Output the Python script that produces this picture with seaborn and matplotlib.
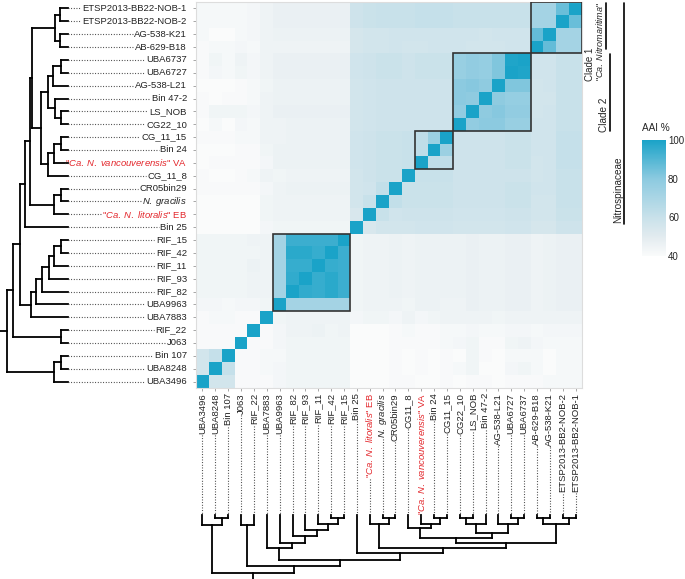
import numpy as np
import pandas as pd
import seaborn as sns
import matplotlib
matplotlib.use("Agg")
import matplotlib.pyplot as plt
from matplotlib.colors import LinearSegmentedColormap
from matplotlib.patches import Rectangle

sns.set_theme(style="white")
plt.rcParams["font.family"] = ["Liberation Sans", "DejaVu Sans"]
plt.rcParams["mathtext.fontset"] = "custom"
plt.rcParams["mathtext.rm"] = "Liberation Sans"
plt.rcParams["mathtext.it"] = "Liberation Sans:italic"

# genomes, top to bottom on the left side
row_labels = [
    "ETSP2013-BB22-NOB-1", "ETSP2013-BB22-NOB-2", "AG-538-K21", "AB-629-B18",
    "UBA6737", "UBA6727", "AG-538-L21", "Bin 47-2", "LS_NOB", "CG22_10",
    "CG_11_15", "Bin 24", '"$\\it{Ca.\\;N.\\;vancouverensis}$" VA', "CG_11_8",
    "CR05bin29", "$\\it{N.\\;gracilis}$", '"$\\it{Ca.\\;N.\\;litoralis}$" EB', "Bin 25",
    "RIF_15", "RIF_42", "RIF_11", "RIF_93", "RIF_82", "UBA9963", "UBA7883",
    "RIF_22", "J063", "Bin 107", "UBA8248", "UBA3496",
]
# genomes, left to right along the bottom
col_labels = [
    "UBA3496", "UBA8248", "Bin 107", "J063", "RIF_22", "UBA7883", "UBA9963",
    "RIF_82", "RIF_93", "RIF_11", "RIF_42", "RIF_15", "Bin 25",
    '"$\\it{Ca.\\;N.\\;litoralis}$" EB', "$\\it{N.\\;gracilis}$", "CR05bin29", "CG11_8",
    '"$\\it{Ca.\\;N.\\;vancouverensis}$" VA', "Bin 24", "CG11_15", "CG22_10", "LS_NOB",
    "Bin 47-2", "AG-538-L21", "UBA6727", "UBA6737", "AB-629-B18", "AG-538-K21",
    "ETSP2013-BB2-NOB-2", "ETSP2013-BB2-NOB-1",
]
red_rows = [12, 16]

# AAI %, rows and columns both in row_labels order
aai = [
    [100, 86, 72, 72, 60, 60, 60, 60, 60, 60, 61, 61, 61, 60, 60, 60, 59, 58, 47, 47, 47, 47, 47, 47, 45, 43, 42, 42, 42, 42],
    [86, 100, 72, 72, 60, 60, 60, 60, 60, 60, 61, 61, 61, 60, 60, 60, 59, 58, 47, 47, 47, 47, 47, 47, 45, 43, 42, 42, 42, 42],
    [72, 72, 100, 87, 57, 57, 57, 56, 57, 57, 57, 57, 57, 57, 57, 56, 56, 55, 46, 46, 46, 46, 46, 46, 45, 43, 42, 40, 40, 42],
    [72, 72, 87, 100, 57, 57, 56, 56, 56, 57, 57, 57, 56, 56, 57, 56, 56, 55, 45, 45, 45, 45, 45, 45, 45, 42, 43, 42, 42, 41],
    [60, 60, 57, 57, 100, 99, 82, 77, 78, 76, 59, 59, 59, 58, 59, 59, 58, 57, 47, 47, 47, 47, 47, 47, 45, 43, 45, 42, 44, 41],
    [60, 60, 57, 57, 99, 100, 82, 77, 78, 76, 59, 59, 59, 58, 59, 59, 58, 57, 47, 47, 47, 47, 47, 47, 45, 43, 44, 42, 43, 41],
    [60, 60, 57, 56, 82, 82, 100, 79, 81, 80, 58, 58, 58, 58, 58, 58, 57, 56, 46, 46, 46, 46, 46, 46, 44, 42, 41, 40, 40, 40],
    [60, 60, 56, 56, 77, 77, 79, 100, 79, 80, 58, 58, 58, 58, 58, 58, 57, 56, 46, 46, 46, 46, 46, 46, 45, 42, 41, 41, 40, 41],
    [60, 60, 57, 56, 78, 78, 81, 79, 100, 78, 58, 58, 58, 58, 58, 58, 57, 56, 47, 47, 47, 47, 47, 47, 45, 43, 44, 44, 44, 41],
    [60, 60, 57, 57, 76, 76, 80, 80, 78, 100, 58, 58, 58, 58, 58, 58, 57, 56, 46, 46, 46, 46, 46, 45, 45, 42, 43, 40, 42, 40],
    [61, 61, 57, 57, 59, 59, 58, 58, 58, 58, 100, 75, 63, 60, 59, 59, 58, 57, 46, 46, 46, 46, 46, 45, 45, 42, 42, 41, 41, 41],
    [61, 61, 57, 57, 59, 59, 58, 58, 58, 58, 75, 100, 63, 60, 59, 59, 58, 57, 46, 46, 46, 46, 46, 46, 44, 41, 41, 40, 40, 40],
    [61, 61, 57, 56, 59, 59, 58, 58, 58, 58, 63, 63, 100, 60, 59, 59, 58, 57, 46, 46, 46, 46, 46, 46, 43, 41, 41, 41, 41, 40],
    [60, 60, 57, 56, 58, 58, 58, 58, 58, 58, 60, 60, 60, 100, 59, 59, 58, 56, 45, 45, 45, 45, 45, 44, 45, 42, 41, 40, 40, 41],
    [60, 60, 57, 57, 59, 59, 58, 58, 58, 58, 59, 59, 59, 59, 100, 62, 57, 56, 46, 46, 46, 46, 46, 45, 43, 41, 41, 41, 41, 41],
    [60, 60, 56, 56, 59, 59, 58, 58, 58, 58, 59, 59, 59, 59, 62, 100, 60, 56, 45, 45, 45, 45, 45, 45, 44, 40, 40, 40, 40, 40],
    [59, 59, 56, 56, 58, 58, 57, 57, 57, 57, 58, 58, 58, 58, 57, 60, 100, 54, 45, 45, 45, 45, 45, 45, 44, 40, 40, 40, 40, 40],
    [58, 58, 55, 55, 57, 57, 56, 56, 56, 56, 57, 57, 57, 56, 56, 56, 54, 100, 44, 44, 44, 44, 44, 44, 43, 40, 40, 40, 40, 40],
    [47, 47, 46, 45, 47, 47, 46, 46, 47, 46, 46, 46, 46, 45, 46, 45, 45, 44, 100, 94, 94, 94, 94, 72, 45, 45, 44, 44, 44, 44],
    [47, 47, 46, 45, 47, 47, 46, 46, 47, 46, 46, 46, 46, 45, 46, 45, 45, 44, 94, 100, 95, 97, 97, 72, 45, 44, 44, 44, 44, 44],
    [47, 47, 46, 45, 47, 47, 46, 46, 47, 46, 46, 46, 46, 45, 46, 45, 45, 44, 94, 95, 100, 95, 95, 72, 45, 46, 44, 44, 44, 44],
    [47, 47, 46, 45, 47, 47, 46, 46, 47, 46, 46, 46, 46, 45, 46, 45, 45, 44, 94, 97, 95, 100, 96, 72, 45, 45, 44, 44, 44, 44],
    [47, 47, 46, 45, 47, 47, 46, 46, 47, 46, 46, 46, 46, 45, 46, 45, 45, 44, 94, 97, 95, 96, 100, 72, 45, 45, 44, 44, 44, 44],
    [47, 47, 46, 45, 47, 47, 46, 46, 47, 45, 45, 46, 46, 44, 45, 45, 45, 44, 72, 72, 72, 72, 72, 100, 44, 43, 43, 42, 43, 43],
    [45, 45, 45, 45, 45, 45, 44, 45, 45, 45, 45, 44, 43, 45, 43, 44, 44, 43, 45, 45, 45, 45, 45, 44, 100, 41, 41, 42, 42, 41],
    [43, 43, 43, 42, 43, 43, 42, 42, 43, 42, 42, 41, 41, 42, 41, 40, 40, 40, 45, 44, 46, 45, 45, 43, 41, 100, 41, 41, 41, 41],
    [42, 42, 42, 43, 45, 44, 41, 41, 44, 43, 42, 41, 41, 41, 41, 40, 40, 40, 44, 44, 44, 44, 44, 43, 41, 41, 100, 41, 41, 41],
    [42, 42, 40, 42, 42, 42, 40, 41, 44, 40, 41, 40, 41, 40, 41, 40, 40, 40, 44, 44, 44, 44, 44, 42, 42, 41, 41, 100, 61, 56],
    [42, 42, 40, 42, 44, 43, 40, 40, 44, 42, 41, 40, 41, 40, 41, 40, 40, 40, 44, 44, 44, 44, 44, 43, 42, 41, 41, 61, 100, 56],
    [42, 42, 42, 41, 41, 41, 40, 41, 41, 40, 41, 40, 40, 41, 41, 40, 40, 40, 44, 44, 44, 44, 44, 43, 41, 41, 41, 56, 56, 100],
]

# boxed groups (row indices)
box_groups = [[0, 1, 2, 3], [4, 5, 6, 7, 8, 9], [10, 11, 12], [18, 19, 20, 21, 22, 23]]


# clustering tree: [left height, bottom height, child, child]; leaves are row indices
def N(hl, hb, a, b):
    return [hl, hb, a, b]


tree = N(61, 58,
         N(55, 51,
           N(48, 45,
             N(43, 38,
               N(37.5, 33,
                 N(35.5, 28,
                   N(13, 9, N(8, 3, 0, 1), N(8, 3, 2, 3)),
                   N(27, 23,
                     N(20, 18, N(15, 9, N(7, 3, 4, 5), 6), N(13, 9, 7, N(7, 3, 8, 9))),
                     N(20, 13, N(14, 9, N(7, 3, 10, 11), 12), 13))),
                 N(14, 9, N(7, 3, 14, 15), 16)),
               17),
             N(37, 33, N(32, 28, N(26, 21, N(19, 15, N(14, 9, N(7, 3, 18, 19), 20), 21), 22), 23), 24)),
           N(7, 10, 25, 26)),
         N(14, 10, N(7, 3, 27, 28), 29))

W, H = 685, 579


def rect(x0, y0, x1, y1):
    return [x0 / W, 1 - y1 / H, (x1 - x0) / W, (y1 - y0) / H]


cmap = LinearSegmentedColormap.from_list(
    "aai", [(0, "#fafbfb"), (1 / 6, "#e2ebef"), (1 / 3, "#c8e1ea"), (2 / 3, "#8ccae0"), (1, "#1aa3c8")])

fig = plt.figure(figsize=(6.85, 5.79), dpi=100)
hm = fig.add_axes(rect(196, 2, 582, 388))
cax = fig.add_axes(rect(642, 140, 666, 256))
lt = fig.add_axes(rect(0, 2, 196, 388))
bt = fig.add_axes(rect(196, 388, 582, 579))
ov = fig.add_axes([0, 0, 1, 1])
ov.set_xlim(0, W)
ov.set_ylim(H, 0)
ov.axis("off")

df = pd.DataFrame(aai, index=row_labels, columns=row_labels)
sns.heatmap(df.iloc[:, ::-1], ax=hm, cmap=cmap, vmin=40, vmax=100, cbar_ax=cax,
            xticklabels=False, yticklabels=False, cbar_kws=dict(ticks=[40, 60, 80, 100]))
n = len(row_labels)
hm.set_xticks(np.arange(n) + 0.5)
hm.set_yticks(np.arange(n) + 0.5)
hm.set_xticklabels([])
hm.set_yticklabels([])
hm.tick_params(left=True, bottom=True, length=2.5, width=0.6, color="#999999")
for s in hm.spines.values():
    s.set_visible(True)
    s.set_color("#dddddd")
    s.set_linewidth(0.8)
for g in box_groups:
    hm.add_patch(Rectangle((n - 1 - max(g), min(g)), len(g), len(g), fill=False,
                           edgecolor="#333333", lw=1.2, zorder=5))

cb = hm.collections[0].colorbar
cb.outline.set_visible(False)
cax.tick_params(length=0, labelsize=7, pad=1.5)
ov.text(642, 128, "AAI %", fontsize=7.2, ha="left", va="center")

line_kw = dict(color="black", lw=1.3, solid_capstyle="projecting")


def draw_left(node):
    if isinstance(node, int):
        return node + 0.5, 68
    hl, hb, a, b = node
    (ya, xa), (yb, xb) = draw_left(a), draw_left(b)
    x = 68 - hl
    lt.plot([x, x], [ya, yb], **line_kw)
    lt.plot([x, xa], [ya, ya], **line_kw)
    lt.plot([x, xb], [yb, yb], **line_kw)
    return (ya + yb) / 2, x


def draw_bottom(node):
    if isinstance(node, int):
        return n - 1 - node + 0.5, 515
    hl, hb, a, b = node
    (xa, ya), (xb, yb) = draw_bottom(a), draw_bottom(b)
    y = 515 + hb
    bt.plot([xa, xb], [y, y], **line_kw)
    bt.plot([xa, xa], [y, ya], **line_kw)
    bt.plot([xb, xb], [y, yb], **line_kw)
    return (xa + xb) / 2, y


lt.set_xlim(0, 196)
lt.set_ylim(n, 0)
lt.axis("off")
bt.set_xlim(0, n)
bt.set_ylim(H, 388)
bt.axis("off")

ry, rx = draw_left(tree)
lt.plot([0, rx], [ry, ry], **line_kw)
bx, by = draw_bottom(tree)
bt.plot([bx, bx], [by, H], **line_kw)

left_texts = []
for i, lab in enumerate(row_labels):
    c = "#e3262b" if i in red_rows else "#222222"
    left_texts.append(lt.text(187, i + 0.5, lab, ha="right", va="center", fontsize=6.8, color=c))
bottom_texts = []
for j, lab in enumerate(col_labels):
    c = "#e3262b" if (n - 1 - j) in red_rows else "#222222"
    bottom_texts.append(bt.text(j + 0.5, 393, lab, ha="center", va="top", rotation=90,
                                fontsize=6.8, color=c))

fig.canvas.draw()
dot_kw = dict(color="#333333", lw=0.8, ls=(0, (0.8, 1.6)))
for i, t in enumerate(left_texts):
    bb = t.get_window_extent()
    x0 = lt.transData.inverted().transform((bb.x0, bb.y0))[0]
    lt.plot([68, x0 - 1.5], [i + 0.5, i + 0.5], **dot_kw)
for j, t in enumerate(bottom_texts):
    bb = t.get_window_extent()
    y0 = bt.transData.inverted().transform((bb.x0, bb.y0))[1]
    bt.plot([j + 0.5, j + 0.5], [y0 + 1.5, 515], **dot_kw)

# clade bars on the right
ov.plot([606, 606], [3, 49], color="black", lw=1.2)
ov.plot([610, 610], [54, 131], color="black", lw=1.2)
ov.plot([624, 624], [3, 224], color="black", lw=1.2)
ov.text(590, 81, "Clade 1", rotation=90, ha="center", va="bottom", fontsize=7)
ov.text(600, 81, '"$\\it{Ca.\\;Nitromaritima}$"', rotation=90, ha="center", va="bottom", fontsize=6.5)
ov.text(604, 132, "Clade 2", rotation=90, ha="center", va="bottom", fontsize=7.2)
ov.text(618, 223, "Nitrospinaceae", rotation=90, ha="center", va="bottom", fontsize=7.2)

fig.savefig("out.png", dpi=100)
plt.close(fig)
